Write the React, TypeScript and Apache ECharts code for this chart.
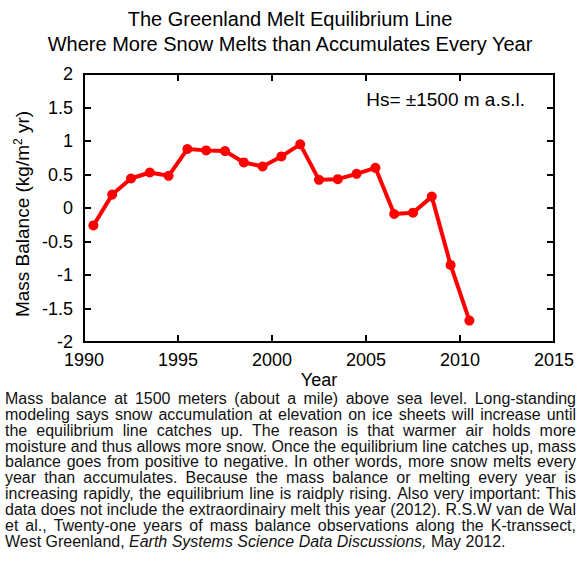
import React, { useEffect, useRef } from "react";
import * as echarts from "echarts";

// Mass balance observations at ~1500 m a.s.l. (K-transect, West Greenland)
const years = [
  1990.5, 1991.5, 1992.5, 1993.5, 1994.5, 1995.5, 1996.5, 1997.5, 1998.5, 1999.5,
  2000.5, 2001.5, 2002.5, 2003.5, 2004.5, 2005.5, 2006.5, 2007.5, 2008.5, 2009.5, 2010.5,
];
const massBalance = [
  -0.26, 0.2, 0.44, 0.53, 0.48, 0.88, 0.86, 0.85, 0.68, 0.62,
  0.77, 0.95, 0.42, 0.43, 0.51, 0.6, -0.09, -0.07, 0.17, -0.85, -1.68,
];

const titleLines = [
  "The Greenland Melt Equilibrium Line",
  "Where More Snow Melts than Accumulates Every Year",
];
const yAxisTitle = "Mass Balance (kg/m{sup|2} yr)";
const xAxisTitle = "Year";
const noteText = "Hs= \u00b11500 m a.s.l.";

// Caption, one entry per printed line; segments wrapped in * are italic.
const captionLines = [
  "Mass balance at 1500 meters (about a mile) above sea level. Long-standing",
  "modeling says snow accumulation at elevation on ice sheets will increase until",
  "the equilibrium line catches up. The reason is that warmer air holds more",
  "moisture and thus allows more snow. Once the equilibrium line catches up, mass",
  "balance goes from positive to negative. In other words, more snow melts every",
  "year than accumulates. Because the mass balance or melting every year is",
  "increasing rapidly, the equilibrium line is raidply rising. Also very important: This",
  "data does not include the extraordinairy melt this year (2012). R.S.W van de Wal",
  "et al., Twenty-one years of mass balance observations along the K-transsect,",
  "West Greenland, *Earth Systems Science Data Discussions*, May 2012.",
];

const FONT = "'Liberation Sans', Arial, Helvetica, sans-serif";
const CAPTION_SIZE = 16;

// Justified caption: each word is its own text element, horizontally
// condensed so the longest line fits the column.
function buildCaption(): any[] {
  const ctx = document.createElement("canvas").getContext("2d")!;
  const left = 5;
  const right = 576;
  const top = 398.5;
  const step = 15.85;
  const els: any[] = [];

  const parsed = captionLines.map((line) => {
    const words: { t: string; italic: boolean }[] = [];
    let italic = false;
    line.split(" ").forEach((raw) => {
      let w = raw;
      let it = italic;
      if (w.startsWith("*")) {
        w = w.slice(1);
        it = true;
        italic = true;
      }
      if (w.includes("*")) {
        w = w.replace("*", "");
        italic = false;
      }
      words.push({ t: w, italic: it });
    });
    const widths = words.map((w) => {
      ctx.font = `${w.italic ? "italic " : ""}${CAPTION_SIZE}px ${FONT}`;
      return ctx.measureText(w.t).width;
    });
    return { words, widths };
  });
  ctx.font = `${CAPTION_SIZE}px ${FONT}`;
  const space = ctx.measureText(" ").width;

  const natural = parsed.map(
    (p) => p.widths.reduce((a, b) => a + b, 0) + space * (p.words.length - 1)
  );
  const sx = Math.min(1, (right - left) / Math.max(...natural.slice(0, -1)));

  parsed.forEach((p, li) => {
    const total = p.widths.reduce((a, b) => a + b, 0) * sx;
    const last = li === parsed.length - 1;
    const gap = last ? space * sx : (right - left - total) / (p.words.length - 1);
    let x = left;
    const y = top + li * step;
    p.words.forEach((w, i) => {
      els.push({
        type: "text",
        x,
        y,
        scaleX: sx,
        silent: true,
        style: {
          text: w.t,
          fill: "#111",
          font: `${w.italic ? "italic " : ""}${CAPTION_SIZE}px ${FONT}`,
          textAlign: "left",
          textVerticalAlign: "middle",
        },
      });
      x += p.widths[i] * sx + gap;
    });
  });
  return els;
}

export default function App() {
  const ref = useRef<HTMLDivElement>(null);

  useEffect(() => {
    if (!ref.current) return;
    const chart = echarts.init(ref.current, null, { renderer: "svg" });
    const axisLine = { show: true, onZero: false, lineStyle: { color: "#000", width: 2 } };
    const axisTick = { show: true, inside: true, length: 7, lineStyle: { color: "#000", width: 2 } };

    chart.setOption({
      animation: false,
      backgroundColor: "#fff",
      grid: { left: 84, right: 26, top: 74, bottom: 220, containLabel: false },
      xAxis: [
        {
          type: "value",
          position: "bottom",
          min: 1990,
          max: 2015,
          interval: 5,
          axisLine,
          axisTick,
          splitLine: { show: false },
          axisLabel: {
            color: "#000",
            fontSize: 18,
            fontFamily: FONT,
            margin: 9,
            formatter: (v: number) => String(v),
          },
        },
        {
          type: "value",
          position: "top",
          min: 1990,
          max: 2015,
          interval: 5,
          axisLine,
          axisTick,
          splitLine: { show: false },
          axisLabel: { show: false },
        },
      ],
      yAxis: [
        {
          type: "value",
          position: "left",
          min: -2,
          max: 2,
          interval: 0.5,
          axisLine,
          axisTick,
          splitLine: { show: false },
          axisLabel: { color: "#000", fontSize: 18, fontFamily: FONT, margin: 11 },
        },
        {
          type: "value",
          position: "right",
          min: -2,
          max: 2,
          interval: 0.5,
          axisLine,
          axisTick,
          splitLine: { show: false },
          axisLabel: { show: false },
        },
      ],
      series: [
        {
          type: "line",
          xAxisIndex: 0,
          yAxisIndex: 0,
          data: years.map((yr, i) => [yr, massBalance[i]]),
          symbol: "circle",
          symbolSize: 10,
          lineStyle: { color: "#ff0000", width: 4 },
          itemStyle: { color: "#ff0000" },
          z: 3,
        },
      ],
      graphic: [
        {
          type: "text",
          x: 290,
          y: 19,
          style: {
            text: titleLines[0],
            font: `20px ${FONT}`,
            fill: "#000",
            textAlign: "center",
            textVerticalAlign: "middle",
          },
        },
        {
          type: "text",
          x: 290,
          y: 44,
          style: {
            text: titleLines[1],
            font: `20px ${FONT}`,
            fill: "#000",
            textAlign: "center",
            textVerticalAlign: "middle",
          },
        },
        {
          type: "text",
          x: 525,
          y: 99,
          style: {
            text: noteText,
            font: `19px ${FONT}`,
            fill: "#000",
            textAlign: "right",
            textVerticalAlign: "middle",
          },
        },
        {
          type: "text",
          x: 319,
          y: 380,
          style: {
            text: xAxisTitle,
            font: `18px ${FONT}`,
            fill: "#000",
            textAlign: "center",
            textVerticalAlign: "middle",
          },
        },
        {
          type: "text",
          x: 22,
          y: 214,
          rotation: Math.PI / 2,
          style: {
            text: yAxisTitle,
            font: `19px ${FONT}`,
            fill: "#000",
            textAlign: "center",
            textVerticalAlign: "middle",
            rich: {
              sup: { fontSize: 12, fontFamily: FONT, verticalAlign: "top", padding: [0, 0, 9, 0], fill: "#000" },
            },
          },
        },
        ...buildCaption(),
      ],
    });
    return () => chart.dispose();
  }, []);

  return (
    <div
      ref={ref}
      style={{ position: "fixed", left: 0, top: 0, width: 580, height: 562, background: "#fff" }}
    />
  );
}
